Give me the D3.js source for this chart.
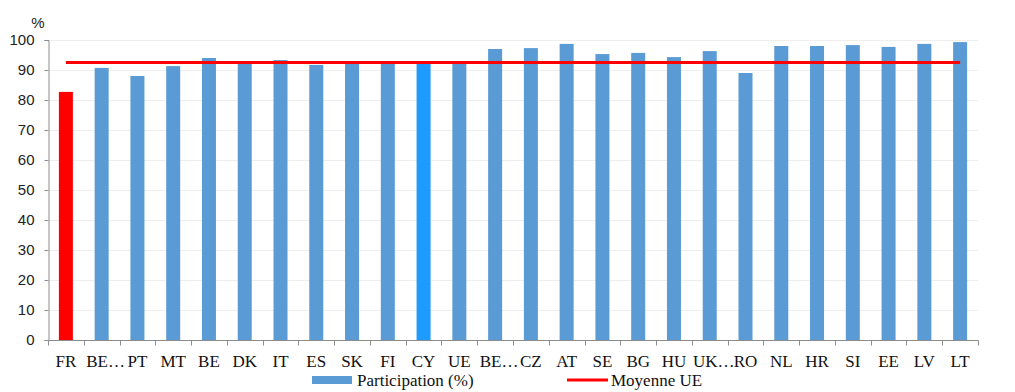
<!DOCTYPE html>
<html><head><meta charset="utf-8">
<script src="https://cdn.jsdelivr.net/npm/d3@7"></script>
<style>body{margin:0;background:#fff}svg{display:block}.serif{font-family:'Liberation Serif','DejaVu Serif',serif}</style>
</head><body>
<svg id="c" width="1015" height="392"></svg>
<script>
const categories = ["FR","BE…","PT","MT","BE","DK","IT","ES","SK","FI","CY","UE","BE…","CZ","AT","SE","BG","HU","UK…","RO","NL","HR","SI","EE","LV","LT"];
const participation = [82.7,90.7,88.0,91.3,94.0,92.3,93.3,91.7,92.4,92.4,92.3,92.5,97.0,97.3,98.7,95.3,95.7,94.3,96.3,89.0,98.0,98.0,98.3,97.7,98.7,99.3];
const euAverage = 92.5;
const yTicks = [0,10,20,30,40,50,60,70,80,90,100];
const highlight = {"FR":"#FF0000","CY":"#1E9BFF"};

const svg = d3.select("#c");
const m = {left:48, right:1015-978, top:40, bottom:392-340};
const W = 1015, H = 392;
const xb = d3.scaleBand().domain(d3.range(categories.length)).range([m.left, W-m.right]);
const y = d3.scaleLinear().domain([0,100]).range([H-m.bottom, m.top]);

// gridlines
svg.append("g").selectAll("line").data(yTicks.filter(d=>d>0)).join("line")
  .attr("x1", m.left).attr("x2", W-m.right)
  .attr("y1", d=>y(d)+0.5).attr("y2", d=>y(d)+0.5)
  .attr("stroke", "#eeeeee").attr("stroke-width", 1);

// y axis
const ya = svg.append("g").attr("transform", `translate(${m.left+0.5},0)`)
  .call(d3.axisLeft(y).tickValues(yTicks).tickSize(4).tickPadding(10));
ya.select(".domain").attr("stroke", "#8c8c8c");
ya.selectAll(".tick line").attr("stroke", "#8c8c8c");
ya.selectAll("text").attr("font-family", "'Liberation Sans', Arial, sans-serif").attr("font-size", 15).attr("fill", "#222");

svg.append("text").attr("x", 38).attr("y", 28).attr("text-anchor", "middle")
  .attr("font-family", "'Liberation Sans', Arial, sans-serif").attr("font-size", 15).attr("fill", "#222").text("%");

// bars
svg.append("g").selectAll("rect").data(participation).join("rect")
  .attr("x", (d,i)=>xb(i) + xb.bandwidth()/2 - 7)
  .attr("width", 14)
  .attr("y", d=>y(d))
  .attr("height", d=>y(0)-y(d))
  .attr("fill", (d,i)=>highlight[categories[i]] || "#5B9BD5");

// x axis
const xa = svg.append("g").attr("transform", `translate(0,${y(0)+0.5})`);
xa.append("line").attr("x1", m.left).attr("x2", W-m.right+0.5).attr("stroke", "#8c8c8c");
xa.selectAll(".tk").data(d3.range(categories.length+1)).join("line")
  .attr("x1", i=>Math.round(m.left + i*xb.step())+0.5).attr("x2", i=>Math.round(m.left + i*xb.step())+0.5)
  .attr("y1", 0).attr("y2", 5).attr("stroke", "#8c8c8c");
xa.selectAll("text").data(categories).join("text")
  .attr("class", "serif")
  .attr("x", (d,i)=>xb(i)+xb.bandwidth()/2 + (d.endsWith("…") ? 4 : 0))
  .attr("y", 26)
  .attr("text-anchor", "middle")
  .attr("font-size", 17).attr("fill", "#111")
  .text(d=>d);

// average line
svg.append("line")
  .attr("x1", xb(0)+xb.bandwidth()/2).attr("x2", xb(categories.length-1)+xb.bandwidth()/2)
  .attr("y1", y(euAverage)).attr("y2", y(euAverage))
  .attr("stroke", "#FF0000").attr("stroke-width", 3);

// legend
const lg = svg.append("g");
lg.append("rect").attr("x", 312).attr("y", 376).attr("width", 40).attr("height", 8).attr("fill", "#5B9BD5");
lg.append("text").attr("class", "serif").attr("font-size", 17).attr("fill", "#111").attr("x", 357).attr("y", 386).text("Participation (%)");
lg.append("line").attr("x1", 567).attr("x2", 608).attr("y1", 380).attr("y2", 380).attr("stroke", "#FF0000").attr("stroke-width", 3);
lg.append("text").attr("class", "serif").attr("font-size", 17).attr("fill", "#111").attr("x", 611).attr("y", 386).text("Moyenne UE");
</script>
</body></html>
